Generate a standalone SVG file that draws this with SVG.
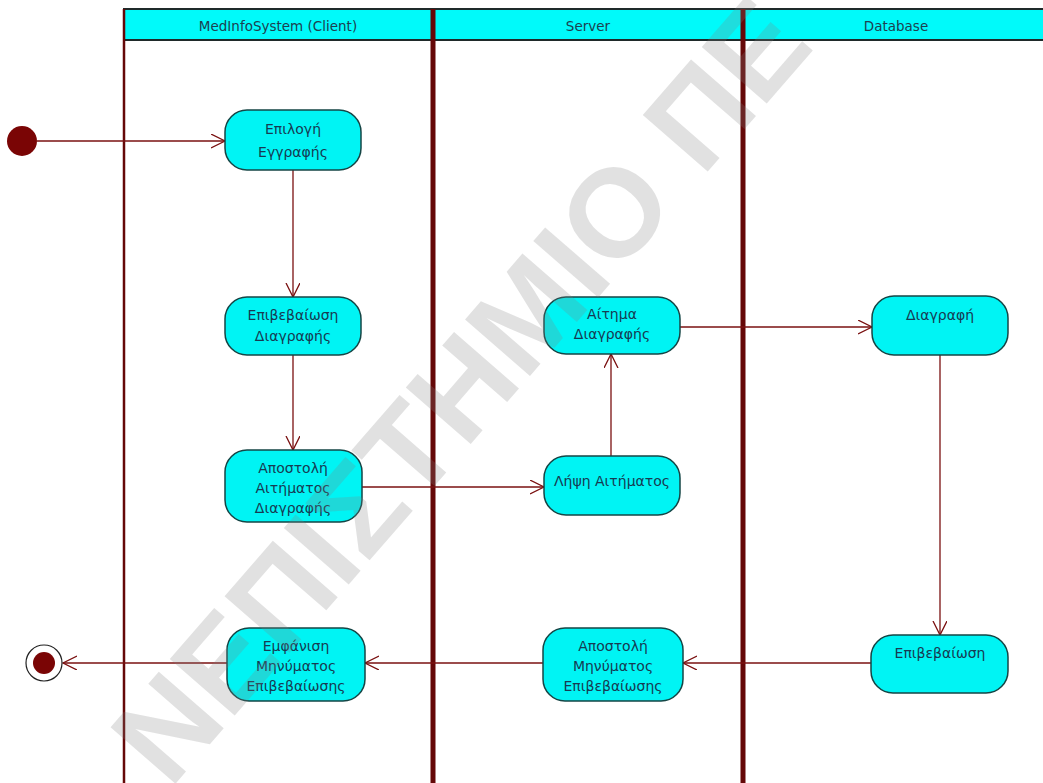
<svg xmlns="http://www.w3.org/2000/svg" width="1043" height="783" viewBox="0 0 1043 783">
<style>
.lane{stroke:#650808;fill:none}
.hdr{fill:#00fafa;stroke:#1f2a2a;stroke-width:2}
.ht{font-family:"DejaVu Sans",sans-serif;font-size:13.5px;fill:#1d4150;text-anchor:middle}
.node rect{fill:#00f4f4;stroke:#154545;stroke-width:1.5}
.node text{font-family:"DejaVu Sans",sans-serif;font-size:14px;fill:#173a52;text-anchor:middle}
.conn{stroke:#7a1010;stroke-width:1.3;fill:none;marker-end:url(#arr)}
</style>
<defs>
<marker id="arr" markerUnits="userSpaceOnUse" markerWidth="16" markerHeight="16" refX="14" refY="7" orient="auto">
<path d="M0,0 L14,7 L0,14" fill="none" stroke="#7a1010" stroke-width="1.3"/>
</marker>
</defs>
<rect width="1043" height="783" fill="#ffffff"/>
<g id="lanes">
<rect class="hdr" x="124" y="9" width="925" height="31"/>
<text class="ht" x="278" y="31">MedInfoSystem (Client)</text>
<text class="ht" x="588" y="31">Server</text>
<text class="ht" x="896" y="31">Database</text>
<line class="lane" x1="124" y1="9" x2="124" y2="783" stroke-width="2.5"/>
<line class="lane" x1="433" y1="9" x2="433" y2="783" stroke-width="5"/>
<line class="lane" x1="743" y1="9" x2="743" y2="783" stroke-width="5"/>
</g>
<g id="connectors">
<line class="conn" x1="37" y1="141" x2="225" y2="141"/>
<line class="conn" x1="293" y1="170" x2="293" y2="297"/>
<line class="conn" x1="293" y1="355" x2="293" y2="450"/>
<line class="conn" x1="362" y1="487" x2="544" y2="487"/>
<line class="conn" x1="611" y1="456" x2="611" y2="354"/>
<line class="conn" x1="680" y1="327" x2="872" y2="327"/>
<line class="conn" x1="940" y1="355" x2="940" y2="635"/>
<line class="conn" x1="871" y1="663" x2="683" y2="663"/>
<line class="conn" x1="543" y1="663" x2="365" y2="663"/>
<line class="conn" x1="227" y1="663" x2="63" y2="663"/>
</g>
<g id="start"><circle cx="22" cy="141" r="15" fill="#7a0505"/></g>
<g id="end"><circle cx="44" cy="663" r="18" fill="#fff" stroke="#222" stroke-width="1.2"/><circle cx="44" cy="663" r="11" fill="#7a0505"/></g>
<g id="n1" class="node"><rect x="225" y="110" width="136" height="60" rx="22"/><text x="293" y="134">Επιλογή</text><text x="293" y="157">Εγγραφής</text></g>
<g id="n2" class="node"><rect x="225" y="297" width="136" height="58" rx="22"/><text x="293" y="320">Επιβεβαίωση</text><text x="293" y="341">Διαγραφής</text></g>
<g id="n3" class="node"><rect x="225" y="450" width="137" height="72" rx="22"/><text x="293" y="473">Αποστολή</text><text x="293" y="493">Αιτήματος</text><text x="293" y="513">Διαγραφής</text></g>
<g id="n4" class="node"><rect x="544" y="297" width="136" height="57" rx="22"/><text x="612" y="319">Αίτημα</text><text x="612" y="339">Διαγραφής</text></g>
<g id="n5" class="node"><rect x="544" y="456" width="136" height="59" rx="22"/><text x="612" y="486">Λήψη Αιτήματος</text></g>
<g id="n6" class="node"><rect x="872" y="296" width="136" height="59" rx="22"/><text x="940" y="320">Διαγραφή</text></g>
<g id="n7" class="node"><rect x="227" y="628" width="138" height="73" rx="22"/><text x="296" y="651">Εμφάνιση</text><text x="296" y="671">Μηνύματος</text><text x="296" y="691">Επιβεβαίωσης</text></g>
<g id="n8" class="node"><rect x="543" y="628" width="140" height="73" rx="22"/><text x="613" y="651">Αποστολή</text><text x="613" y="671">Μηνύματος</text><text x="613" y="691">Επιβεβαίωσης</text></g>
<g id="n9" class="node"><rect x="871" y="635" width="137" height="58" rx="22"/><text x="940" y="658">Επιβεβαίωση</text></g>
<g id="watermark"><text transform="translate(170,790) rotate(-49)" font-family="Liberation Sans, sans-serif" font-weight="bold" font-size="125" fill="#808080" fill-opacity="0.24">ΝΕΠΙΣΤΗΜΙΟ ΠΕ</text></g>
</svg>
